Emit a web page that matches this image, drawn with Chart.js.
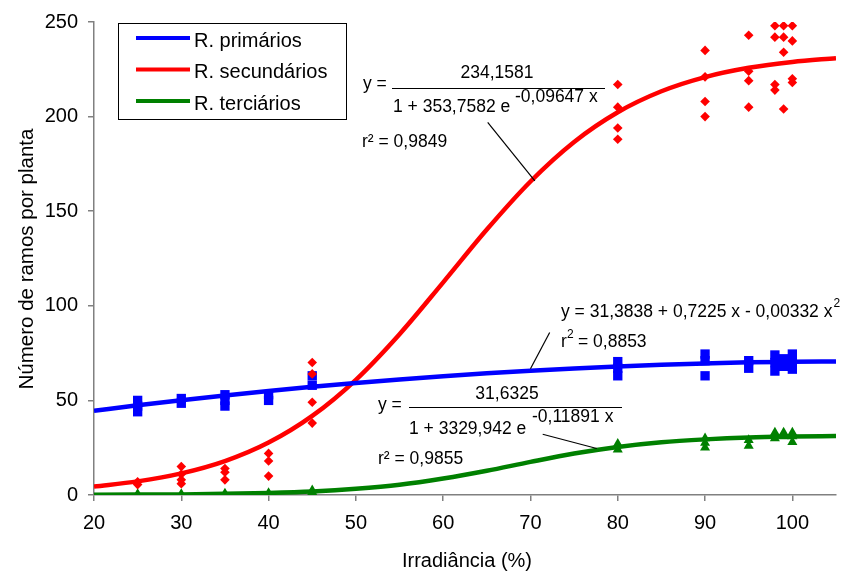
<!DOCTYPE html>
<html>
<head>
<meta charset="utf-8">
<script src="https://cdn.jsdelivr.net/npm/chart.js@4.4.0/dist/chart.umd.min.js"></script>
<style>
  body { margin: 0; background: #fff; }
  #wrap { width: 850px; height: 572px; }
</style>
</head>
<body>
<div id="wrap"><canvas id="chart" width="850" height="572"></canvas></div>
<script>
const xTicks = [20, 30, 40, 50, 60, 70, 80, 90, 100];
const yTicks = [0, 50, 100, 150, 200, 250];
const seriesNames = ['R. primários', 'R. secundários', 'R. terciários'];

// observed points, irradiance (%) vs branches per plant
const primX = [25, 25, 25, 30, 30, 35, 35, 35, 40, 40, 45, 45, 80, 80, 80, 90, 90, 90, 95, 95, 98, 98, 98, 99, 99, 100, 100, 100];
const primY = [44, 47, 50, 48.5, 51, 47, 50, 53, 50, 53, 58, 63, 63, 67, 70.5, 63, 71, 74.5, 67, 71, 65.5, 70, 74, 68, 72, 66.5, 70.5, 74.5];

const secX = [25, 25, 30, 30, 30, 30, 35, 35, 35, 40, 40, 40, 45, 45, 45, 45, 80, 80, 80, 80, 90, 90, 90, 90, 95, 95, 95, 95, 98, 98, 98, 98, 99, 99, 99, 99, 100, 100, 100, 100];
const secY = [5.5, 7, 15, 11, 8, 6, 14, 12, 8, 22, 18, 10, 70, 64, 49, 38, 217, 205, 194, 188, 235, 221, 208, 200, 243, 224, 219, 205, 248, 242, 217, 214, 248, 242, 234, 204, 248, 240, 220, 218];

const terX = [25, 25, 30, 30, 35, 35, 40, 40, 45, 45, 80, 80, 90, 90, 90, 95, 95, 98, 98, 99, 99, 100, 100, 100];
const terY = [0, 0.5, 0, 0.5, 0.3, 0.8, 0.5, 1, 1.5, 2.5, 24, 27, 25, 27.5, 30, 26, 29, 30, 33, 31, 33, 28, 31, 33];

// fitted curves
const fitX = [20, 25, 30, 35, 40, 45, 50, 55, 60, 65, 70, 75, 80, 85, 90, 95, 100, 105];
const primFit = [44.5, 47.4, 50.1, 52.6, 55.0, 57.2, 59.2, 61.1, 62.8, 64.3, 65.7, 66.9, 67.9, 68.8, 69.5, 70.1, 70.4, 70.6];
const secFit = [4.5, 7.2, 11.4, 17.9, 27.7, 41.8, 60.9, 85.0, 112.4, 140.3, 165.7, 186.6, 202.3, 213.4, 220.9, 225.8, 228.9, 230.9];
const terFit = [0.1, 0.2, 0.3, 0.6, 1.1, 1.9, 3.3, 5.4, 8.7, 12.8, 17.5, 21.9, 25.4, 27.9, 29.4, 30.4, 30.9, 31.2];

const BLUE = '#0000ff', RED = '#ff0000', GREEN = '#008000';
const FONT = '"Liberation Sans", Arial, sans-serif';

const pairs = (xs, ys) => xs.map((x, i) => ({ x: x, y: ys[i] }));

const pointSet = (xs, ys, color, style, r) => ({
  type: 'scatter',
  data: pairs(xs, ys),
  pointStyle: style,
  pointRadius: r,
  pointHoverRadius: r,
  backgroundColor: color,
  borderColor: color,
  borderWidth: 0,
  showLine: false
});

const curveSet = (ys, color) => ({
  type: 'line',
  data: pairs(fitX, ys),
  borderColor: color,
  borderWidth: 4.5,
  pointRadius: 0,
  fill: false,
  cubicInterpolationMode: 'monotone'
});

function txt(ctx, s, x, y, size, align) {
  ctx.font = size + 'px ' + FONT;
  ctx.textAlign = align || 'left';
  ctx.textBaseline = 'middle';
  ctx.fillText(s, x, y);
}

const extras = {
  id: 'extras',
  afterDraw(chart) {
    const ctx = chart.ctx;
    const xs = chart.scales.x, ys = chart.scales.y;
    const px = v => xs.getPixelForValue(v), py = v => ys.getPixelForValue(v);
    ctx.save();
    ctx.fillStyle = '#000';

    // axis titles
    txt(ctx, 'Irradiância (%)', 467, 561, 20, 'center');
    ctx.save();
    ctx.translate(27, 259);
    ctx.rotate(-Math.PI / 2);
    txt(ctx, 'Número de ramos por planta', 0, 0, 20.5, 'center');
    ctx.restore();

    // legend
    ctx.strokeStyle = '#000';
    ctx.lineWidth = 1;
    ctx.strokeRect(118.5, 23.5, 228, 96);
    [BLUE, RED, GREEN].forEach((c, i) => {
      const yy = 38 + i * 31.5;
      ctx.strokeStyle = c;
      ctx.lineWidth = 4;
      ctx.beginPath();
      ctx.moveTo(136, yy);
      ctx.lineTo(190, yy);
      ctx.stroke();
      txt(ctx, seriesNames[i], 194, yy + 3, 20);
    });

    const fs = 17.5;
    ctx.strokeStyle = '#000';
    ctx.lineWidth = 1.2;
    const lead = (x1, y1, x2, y2) => {
      ctx.beginPath();
      ctx.moveTo(px(x1), py(y1));
      ctx.lineTo(px(x2), py(y2));
      ctx.stroke();
    };

    // secondary fit
    txt(ctx, 'y =', 363, 84, fs);
    txt(ctx, '234,1581', 497, 73, fs, 'center');
    ctx.beginPath(); ctx.moveTo(392, 88.5); ctx.lineTo(605, 88.5); ctx.stroke();
    txt(ctx, '1 + 353,7582 e', 393, 107, fs);
    txt(ctx, '-0,09647 x', 515, 97, fs);
    txt(ctx, 'r² = 0,9849', 362, 142, fs);
    lead(65.1, 197, 70.5, 166);

    // primary fit
    txt(ctx, 'y = 31,3838 + 0,7225 x - 0,00332 x', 561, 312, fs);
    ctx.font = fs + 'px ' + FONT;
    const w = ctx.measureText('y = 31,3838 + 0,7225 x - 0,00332 x').width;
    txt(ctx, '2', 562 + w, 304, 12);
    txt(ctx, 'r', 561, 342, fs);
    txt(ctx, '2', 567, 335, 12);
    txt(ctx, '= 0,8853', 578, 342, fs);
    lead(72.2, 85.9, 70.0, 66.7);

    // tertiary fit
    txt(ctx, 'y =', 378, 405, fs);
    txt(ctx, '31,6325', 507, 394, fs, 'center');
    ctx.beginPath(); ctx.moveTo(409, 407.5); ctx.lineTo(622, 407.5); ctx.stroke();
    txt(ctx, '1 + 3329,942 e', 409, 429, fs);
    txt(ctx, '-0,11891 x', 532, 417, fs);
    txt(ctx, 'r² = 0,9855', 378, 459, fs);
    lead(71.4, 32.1, 77.6, 24.6);

    ctx.restore();
  }
};

const axisGrid = { drawOnChartArea: false, color: '#808080', lineWidth: 1.5, tickLength: 6 };
const axisBorder = { color: '#808080', width: 1.5 };

new Chart(document.getElementById('chart'), {
  type: 'scatter',
  data: {
    datasets: [
      pointSet(secX, secY, RED, 'rectRot', 4.8),
      pointSet(primX, primY, BLUE, 'rect', 6.6),
      pointSet(terX, terY, GREEN, 'triangle', 5.8),
      curveSet(primFit, BLUE),
      curveSet(secFit, RED),
      curveSet(terFit, GREEN)
    ]
  },
  options: {
    responsive: false,
    devicePixelRatio: 1,
    animation: false,
    layout: { padding: { top: 20, right: 14, left: 0, bottom: 0 } },
    plugins: { legend: { display: false }, tooltip: { enabled: false } },
    scales: {
      x: {
        type: 'linear',
        min: 20,
        max: 105,
        afterBuildTicks: s => { s.ticks = xTicks.map(v => ({ value: v })); },
        afterFit: s => { s.height = 77; },
        grid: axisGrid,
        border: axisBorder,
        ticks: { color: '#000', padding: 10, maxRotation: 0, font: { family: FONT, size: 20 } }
      },
      y: {
        min: 0,
        max: 250,
        afterBuildTicks: s => { s.ticks = yTicks.map(v => ({ value: v })); },
        afterFit: s => { s.width = 94; },
        grid: axisGrid,
        border: axisBorder,
        ticks: { color: '#000', padding: 10, font: { family: FONT, size: 20 } }
      }
    }
  },
  plugins: [extras]
});
</script>
</body>
</html>
